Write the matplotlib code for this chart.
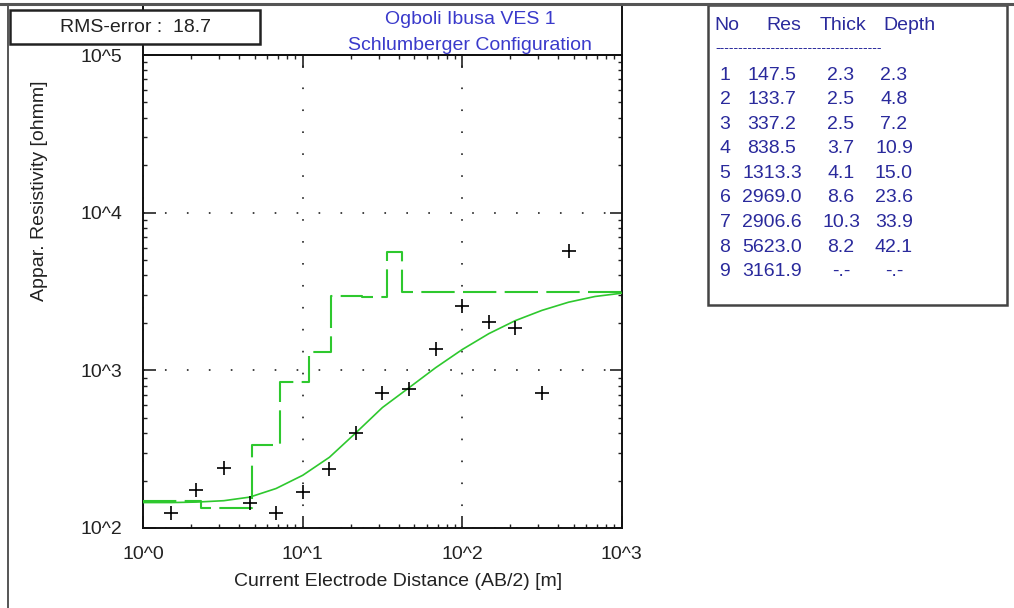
import numpy as np
import matplotlib
matplotlib.use('Agg')
import matplotlib.pyplot as plt
from matplotlib.lines import Line2D
from matplotlib.patches import Rectangle
from matplotlib.ticker import LogLocator, FixedLocator, NullFormatter

plt.rcParams['font.family'] = ['Liberation Sans', 'DejaVu Sans']
plt.rcParams['lines.scale_dashes'] = False

# Observed apparent resistivity (field data, + markers)
ab2_obs = [1.5, 2.15, 3.2, 4.65, 6.8, 10, 14.7, 21.5, 31.6, 46.4, 68, 100, 147, 215, 316, 464]
rho_obs = [124, 175, 240, 144, 125, 169, 235, 401, 713, 766, 1368, 2570, 2013, 1857, 713, 5700]

# Calculated response curve
ab2_calc = [1.0, 1.5, 2.15, 3.2, 4.65, 6.8, 10, 14.7, 21.5, 31.6, 46.4, 68, 100, 147, 215, 316, 464, 680, 1000]
rho_calc = [145, 145, 146, 149, 157, 178, 216, 281, 401, 581, 776, 1038, 1355, 1710, 2066, 2400, 2704, 2940, 3085]

# Layer model
layer_no = [1, 2, 3, 4, 5, 6, 7, 8, 9]
layer_res = [147.5, 133.7, 337.2, 838.5, 1313.3, 2969.0, 2906.6, 5623.0, 3161.9]
layer_thick = [2.3, 2.5, 2.5, 3.7, 4.1, 8.6, 10.3, 8.2]
layer_depth = [2.3, 4.8, 7.2, 10.9, 15.0, 23.6, 33.9, 42.1]

title_lines = ['Ogboli Ibusa VES 1', 'Schlumberger Configuration']
rms_error = 18.7

W, H = 1014, 608
green = '#2ec82e'
blue = '#3a3acb'
tblue = '#2a2a9c'


def fx(px):
    return px / W


def fy(py):
    return 1 - py / H


fig = plt.figure(figsize=(W / 100, H / 100), dpi=100)

ax_l, ax_r, ax_t, ax_b = 143.3, 621.7, 55, 528
ax = fig.add_axes([fx(ax_l), fy(ax_b), fx(ax_r - ax_l), (ax_b - ax_t) / H])
ax.set_xscale('log')
ax.set_yscale('log')
ax.set_xlim(1, 1000)
ax.set_ylim(100, 1e5)

# model (dashed steps)
step_x = [1] + layer_depth + [1000]
step_y = layer_res + [layer_res[-1]]
ax.step(step_x, step_y, where='post', color=green, lw=1.5, dashes=(24, 6), zorder=3)

# calculated curve
ax.plot(ab2_calc, rho_calc, color=green, lw=1.2, zorder=3)

# observed data
ax.plot(ab2_obs, rho_obs, '+', color='black', ms=10, mew=1.2, zorder=4)

# ticks / grid
dec = [1, 10, 100, 1000]
ax.xaxis.set_major_locator(FixedLocator(dec))
ax.set_xticklabels(['10^0', '10^1', '10^2', '10^3'])
ax.yaxis.set_major_locator(FixedLocator([100, 1000, 1e4, 1e5]))
ax.set_yticklabels(['10^2', '10^3', '10^4', '10^5'])
ax.xaxis.set_minor_locator(LogLocator(base=10, subs=np.arange(2, 10)))
ax.yaxis.set_minor_locator(LogLocator(base=10, subs=np.arange(2, 10)))
ax.xaxis.set_minor_formatter(NullFormatter())
ax.yaxis.set_minor_formatter(NullFormatter())
ax.tick_params(which='both', direction='in', top=True, right=True, colors='#222222', labelsize=14)
ax.tick_params(which='major', length=9, width=1.2)
ax.tick_params(which='minor', length=3, width=1.0)
ax.tick_params(axis='x', pad=13)
ax.tick_params(axis='y', pad=30)
for lbl in ax.get_yticklabels():
    lbl.set_horizontalalignment('center')
ax.grid(True, which='major', color='#333333', lw=1.3, linestyle=(0, (1.2, 14.6)))
for s in ax.spines.values():
    s.set_linewidth(1.4)
    s.set_color('#111111')

fig.text(fx(398), fy(582), 'Current Electrode Distance (AB/2) [m]', fontsize=14,
         ha='center', va='center', color='#222222')
fig.text(fx(40), fy(191), 'Appar. Resistivity [ohmm]', fontsize=14, rotation=90,
         ha='center', va='center', color='#222222')

# title box above the axes
fig.patches.append(Rectangle((fx(ax_l), fy(ax_t)), fx(ax_r - ax_l), (ax_t - 5) / H,
                             transform=fig.transFigure, fill=False, ec='#111111', lw=1.4))
fig.text(fx(470), fy(20), title_lines[0], fontsize=14, color=blue, ha='center', va='center')
fig.text(fx(470), fy(45), title_lines[1], fontsize=14, color=blue, ha='center', va='center')

# outer panel edges
fig.lines.append(Line2D([0, 1], [fy(4), fy(4)], transform=fig.transFigure, color='#555555', lw=2.2))
fig.lines.append(Line2D([fx(8), fx(8)], [fy(4), 0], transform=fig.transFigure, color='#555555', lw=1.4))

# RMS box
fig.patches.append(Rectangle((fx(10), fy(44)), fx(250), 34 / H, transform=fig.transFigure,
                             fc='white', ec='#222222', lw=1.8, zorder=5))
fig.text(fx(135), fy(27), f'RMS-error :  {rms_error}', fontsize=14, color='#222222',
         ha='center', va='center', zorder=6)

# layer table
fig.patches.append(Rectangle((fx(708), fy(305)), fx(299), 300 / H, transform=fig.transFigure,
                             fill=False, ec='#444444', lw=1.8))
hdr_y = 25
for txt, x in [('No', 727), ('Res', 784), ('Thick', 843), ('Depth', 909)]:
    fig.text(fx(x), fy(hdr_y), txt, fontsize=14, color=tblue, ha='center', va='center')
fig.text(fx(715), fy(48), '-' * 36, fontsize=10, color=tblue, ha='left', va='center')
row0, dy = 75, 24.6
for i, no in enumerate(layer_no):
    y = fy(row0 + i * dy)
    fig.text(fx(725), y, str(no), fontsize=14, color=tblue, ha='center', va='center')
    fig.text(fx(772), y, f'{layer_res[i]:.1f}', fontsize=14, color=tblue, ha='center', va='center')
    th = f'{layer_thick[i]:.1f}' if i < len(layer_thick) else '-.-'
    dp = f'{layer_depth[i]:.1f}' if i < len(layer_depth) else '-.-'
    fig.text(fx(841), y, th, fontsize=14, color=tblue, ha='center', va='center')
    fig.text(fx(894), y, dp, fontsize=14, color=tblue, ha='center', va='center')

fig.savefig('out.png', dpi=100)
